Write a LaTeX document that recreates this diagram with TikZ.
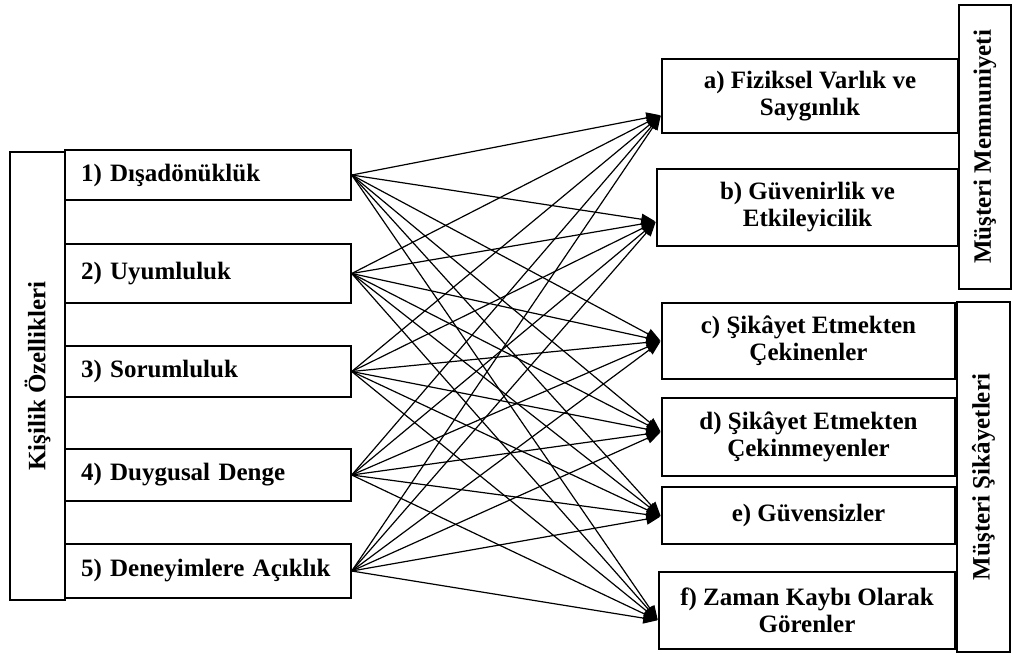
\documentclass[tikz,border=0pt]{standalone}
\usepackage{fontspec}
\setmainfont{Liberation Serif}
\usetikzlibrary{arrows.meta}

\begin{document}
\begin{tikzpicture}[x=1pt,y=-1pt,
  every node/.style={font=\fontsize{25}{27}\selectfont\bfseries},
  box/.style={draw=black,line width=1.5pt,fill=white,inner sep=0pt},
  leftbox/.style={box,minimum width=286pt,text width=254pt,align=left},
  rightbox/.style={box,align=center},
  conn/.style={black,line width=1.2pt,-{Triangle[length=14pt,width=11pt]},shorten >=1pt}]
\useasboundingbox (0,0) rectangle (1014,654);
\node[box,rotate=90,minimum width=448pt,minimum height=55pt] (kisilik) at (37.5,376) {Kişilik Özellikleri};
\node[leftbox,minimum height=50pt] (k1) at (208,175) {1) Dışadönüklük};
\node[leftbox,minimum height=59pt] (k2) at (208,273.5) {2) Uyumluluk};
\node[leftbox,minimum height=51pt] (k3) at (208,371.5) {3) Sorumluluk};
\node[leftbox,minimum height=52pt] (k4) at (208,475) {4) Duygusal Denge};
\node[leftbox,minimum height=54pt] (k5) at (208,571) {5) Deneyimlere Açıklık};
\node[rightbox,minimum width=296pt,minimum height=74pt] (ra) at (810,96) {a) Fiziksel Varlık ve\\Saygınlık};
\node[rightbox,minimum width=301pt,minimum height=77pt] (rb) at (807.5,207.5) {b) Güvenirlik ve\\Etkileyicilik};
\node[rightbox,minimum width=293pt,minimum height=76pt] (rc) at (808.5,341) {c) Şikâyet Etmekten\\Çekinenler};
\node[rightbox,minimum width=293pt,minimum height=78pt] (rd) at (808.5,437) {d) Şikâyet Etmekten\\Çekinmeyenler};
\node[rightbox,minimum width=293pt,minimum height=57pt] (re) at (808.5,515.5) {e) Güvensizler};
\node[rightbox,minimum width=296pt,minimum height=77pt] (rf) at (807,610.5) {f) Zaman Kaybı Olarak\\Görenler};
\node[box,rotate=90,minimum width=284pt,minimum height=52pt] (memnun) at (985,147) {Müşteri Memnuniyeti};
\node[box,rotate=90,minimum width=350pt,minimum height=53pt] (sikayet) at (983.5,477) {Müşteri Şikâyetleri};
\foreach \s in {k1,k2,k3,k4,k5}
  \foreach \t/\dy in {ra/-19,rb/-14,rc/0,rd/5,re/-1,rf/-10}
    \draw[conn] (\s.east) -- ([yshift=\dy pt]\t.west);
\end{tikzpicture}
\end{document}
